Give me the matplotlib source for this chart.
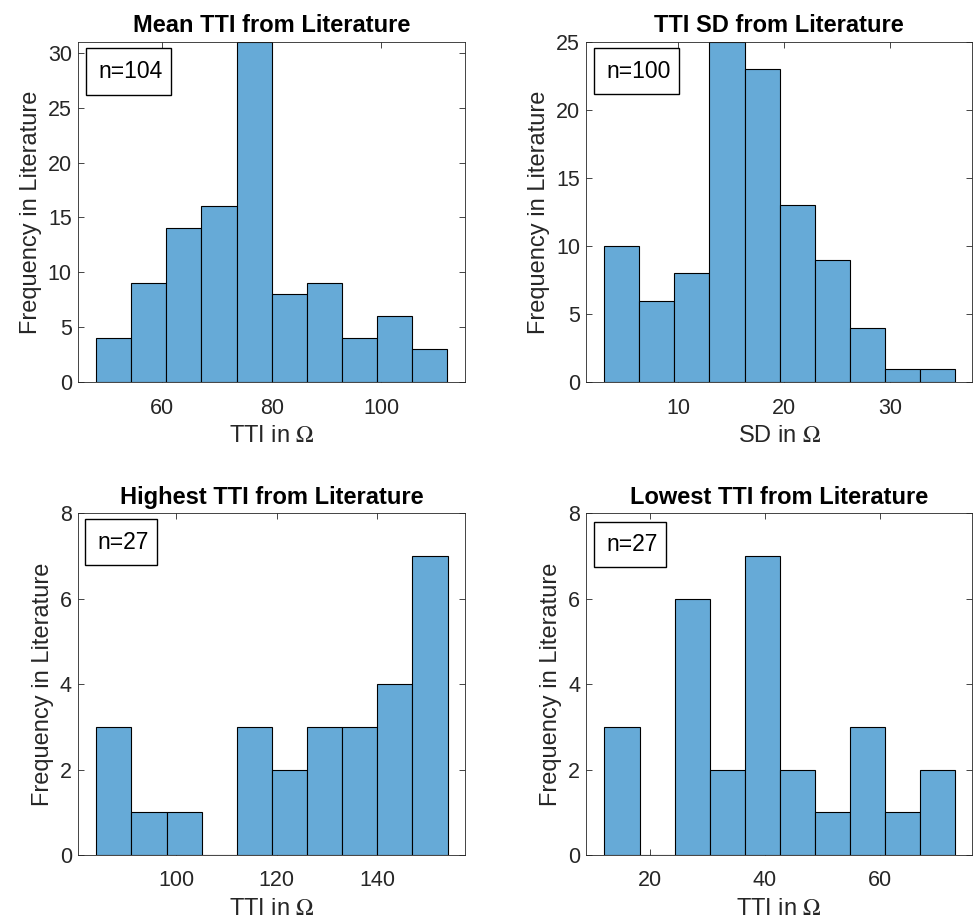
import numpy as np
import matplotlib
matplotlib.use('Agg')
import matplotlib.pyplot as plt
from matplotlib.patches import Rectangle

# ================= data (bin edges and counts) =================
mean_edges = [48.0, 54.4, 60.8, 67.2, 73.6, 80.0, 86.4, 92.8, 99.2, 105.6, 112.0]
mean_counts = [4, 9, 14, 16, 31, 8, 9, 4, 6, 3]

sd_edges = [3.0, 6.3, 9.6, 12.9, 16.3, 19.6, 22.9, 26.2, 29.5, 32.8, 36.1]
sd_counts = [10, 6, 8, 25, 23, 13, 9, 4, 1, 1]

high_edges = [84.1, 91.1, 98.1, 105.1, 112.1, 119.1, 126.0, 133.0, 140.0, 147.0, 154.0]
high_counts = [3, 1, 1, 0, 3, 2, 3, 3, 4, 7]

low_edges = [12.1, 18.2, 24.3, 30.4, 36.5, 42.6, 48.7, 54.8, 60.9, 67.0, 73.1]
low_counts = [3, 0, 6, 2, 7, 2, 1, 3, 1, 2]

titles = ["Mean TTI from Literature", "TTI SD from Literature",
          "Highest TTI from Literature", "Lowest TTI from Literature"]
xlabels = [r"TTI in $\Omega$", r"SD in $\Omega$", r"TTI in $\Omega$", r"TTI in $\Omega$"]
n_labels = ["n=104", "n=100", "n=27", "n=27"]
xticks_list = [[60, 80, 100], [10, 20, 30], [100, 120, 140], [20, 40, 60]]
yticks_list = [[0, 5, 10, 15, 20, 25, 30], [0, 5, 10, 15, 20, 25], [0, 2, 4, 6, 8], [0, 2, 4, 6, 8]]

# ================= style =================
plt.rcParams['font.family'] = ['Liberation Sans', 'DejaVu Sans']
plt.rcParams['mathtext.fontset'] = 'stix'
AX_COL = '#262626'
BAR_COL = '#66AAD7'

fig = plt.figure(figsize=(9.74, 9.22), dpi=100)

# axes positions [left, bottom, width, height] in figure fraction
positions = [
    [0.0801, 0.5854, 0.3976, 0.3694],
    [0.6020, 0.5854, 0.3963, 0.3694],
    [0.0801, 0.0727, 0.3976, 0.3706],
    [0.6020, 0.0727, 0.3963, 0.3706],
]
xlims = [(44.7, 115.3), (1.35, 37.74), (80.5, 157.5), (8.94, 76.15)]
ylims = [(0, 31), (0, 25), (0, 8), (0, 8)]
boxes = [  # x0, y0, x1, y1 in axes fraction
    (0.020, 0.842, 0.241, 0.981),
    (0.020, 0.845, 0.241, 0.981),
    (0.018, 0.849, 0.205, 0.982),
    (0.020, 0.842, 0.207, 0.975),
]

all_edges = [mean_edges, sd_edges, high_edges, low_edges]
all_counts = [mean_counts, sd_counts, high_counts, low_counts]

for i in range(4):
    ax = fig.add_axes(positions[i])
    edges = np.array(all_edges[i])
    counts = np.array(all_counts[i])
    ax.bar(edges[:-1], counts, width=np.diff(edges), align='edge',
           color=BAR_COL, edgecolor='black', linewidth=0.8, zorder=2)
    ax.set_xlim(*xlims[i])
    ax.set_ylim(*ylims[i])
    ax.set_xticks(xticks_list[i])
    ax.set_yticks(yticks_list[i])
    ax.tick_params(direction='in', top=True, right=True, length=4, width=0.6,
                   colors=AX_COL, labelsize=15.5)
    ax.tick_params(axis='x', pad=11)
    ax.tick_params(axis='y', pad=4.5)
    for sp in ax.spines.values():
        sp.set_color(AX_COL)
        sp.set_linewidth(0.6)
    ax.set_title(titles[i], fontsize=17, fontweight='bold', pad=7)
    ax.set_xlabel(xlabels[i], fontsize=17, color=AX_COL, labelpad=5)
    ax.set_ylabel("Frequency in Literature", fontsize=17, color=AX_COL, labelpad=4)

    x0, y0, x1, y1 = boxes[i]
    ax.add_patch(Rectangle((x0, y0), x1 - x0, y1 - y0, transform=ax.transAxes,
                           facecolor='white', edgecolor='black', linewidth=1.0,
                           zorder=5, clip_on=False))
    ax.text((x0 + x1) / 2 + 0.004, (y0 + y1) / 2, n_labels[i], transform=ax.transAxes,
            ha='center', va='center', fontsize=16.5, color='black', zorder=6)

fig.savefig('out.png', dpi=100)
